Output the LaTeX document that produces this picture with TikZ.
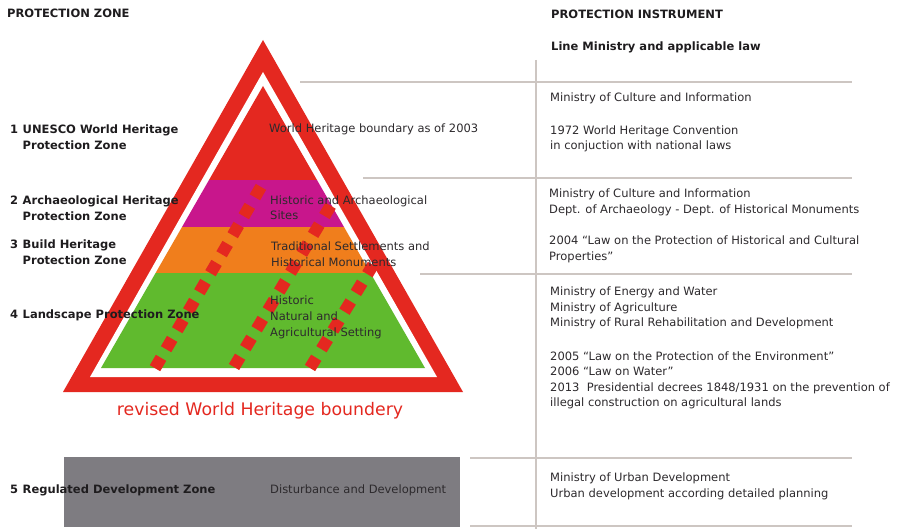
\documentclass[tikz,border=0pt]{standalone}
\usepackage{fontspec}
\setmainfont{DejaVu Sans}
\definecolor{hred}{RGB}{228,40,32}
\definecolor{zmag}{RGB}{200,22,140}
\definecolor{zorange}{RGB}{240,126,28}
\definecolor{zgreen}{RGB}{96,186,46}
\definecolor{zgrey}{RGB}{126,124,129}
\definecolor{rulegrey}{RGB}{205,198,194}
\definecolor{ink}{RGB}{30,28,30}
\definecolor{inkr}{RGB}{45,42,45}
\tikzset{
  lab/.style={anchor=base west, inner sep=0pt, font=\fontsize{11.5}{15.8}\selectfont\bfseries, text=ink},
  txt/.style={anchor=base west, inner sep=0pt, font=\fontsize{11.5}{15.6}\selectfont, text=inkr},
  rule/.style={draw=rulegrey, line width=1.1pt},
  sqdots/.style={draw=hred, line width=12pt, dash pattern=on 12pt off 10pt},
}
\newcommand{\twol}[3]{\begin{tabular}[t]{@{}l@{\hspace{4.5pt}}l@{}}#1 & #2\\ & #3\end{tabular}}
\newcommand{\mlines}[1]{\begin{tabular}[t]{@{}l@{}}#1\end{tabular}}
\begin{document}
\begin{tikzpicture}[x=1pt,y=-1pt]
\useasboundingbox (0,0) rectangle (897,529);
\fill[white] (0,0) rectangle (897,529);
% table rules
\draw[rule] (300,82) -- (852,82);
\draw[rule] (363,178) -- (852,178);
\draw[rule] (420,274) -- (852,274);
\draw[rule] (470,458) -- (852,458);
\draw[rule] (470,526) -- (852,526);
\draw[rule] (536,60) -- (536,529);
% regulated development zone
\fill[zgrey] (64,457) rectangle (460,527);
% pyramid
\fill[hred] (263,40) -- (63,392) -- (463,392) -- cycle;
\fill[white] (263,72) -- (90,377) -- (437,377) -- cycle;
\begin{scope}
\clip (263,86) -- (101,368) -- (425,368) -- cycle;
\fill[hred] (90,80) rectangle (440,180.5);
\fill[zmag] (90,180) rectangle (440,227.5);
\fill[zorange] (90,227) rectangle (440,273.5);
\fill[zgreen] (90,273) rectangle (440,370);
\end{scope}
\draw[sqdots] (155,368.2) -- (261,186.8);
\draw[sqdots] (234,367) -- (331,205);
\draw[sqdots] (310,368) -- (373,265);
% headings
\node[lab] (pz) at (7,17.3) {PROTECTION ZONE};
\node[lab] (pi) at (551,19) {PROTECTION INSTRUMENT};
\node[lab] (lm) at (551,50.7) {Line Ministry and applicable law};
% zone labels
\node[lab] (z1) at (10,134) {\twol{1}{UNESCO World Heritage}{Protection Zone}};
\node[lab] (z2) at (10,204.3) {\twol{2}{Archaeological Heritage}{Protection Zone}};
\node[lab] (z3) at (10,248.5) {\twol{3}{Build Heritage}{Protection Zone}};
\node[lab] (z4) at (10,319) {4\hspace{4.5pt}Landscape Protection Zone};
\node[lab] (z5) at (10,493.3) {5\hspace{4.5pt}Regulated Development Zone};
% zone texts
\node[txt] (t1) at (269,132.3) {World Heritage boundary as of 2003};
\node[txt] (t2) at (270,204.3) {\mlines{Historic and Archaeological\\Sites}};
\node[txt] (t3) at (271,250.5) {\mlines{Traditional Settlements and\\Historical Monuments}};
\node[txt] (t4) at (270,305) {\mlines{Historic\\Natural and\\Agricultural Setting}};
\node[txt] (t5) at (270,493.3) {Disturbance and Development};
\node[anchor=base, inner sep=0pt, font=\fontsize{17.3}{20}\selectfont, text=hred] (rev) at (260,415.7) {revised World Heritage boundery};
% instruments
\node[txt] (r1a) at (550,101.7) {Ministry of Culture and Information};
\node[txt] (r1b) at (550,134.3) {\mlines{1972 World Heritage Convention\\in conjuction with national laws}};
\node[txt] (r2a) at (549,197.7) {\mlines{Ministry of Culture and Information\\Dept. of Archaeology - Dept. of Historical Monuments}};
\node[txt] (r2b) at (549,245) {\mlines{2004 “Law on the Protection of Historical and Cultural\\Properties”}};
\node[txt] (r4a) at (550,295.7) {\mlines{Ministry of Energy and Water\\Ministry of Agriculture\\Ministry of Rural Rehabilitation and Development}};
\node[txt] (r4b) at (550,360) {\mlines{2005 “Law on the Protection of the Environment”\\2006 “Law on Water”\\2013\ \ Presidential decrees 1848/1931 on the prevention of\\illegal construction on agricultural lands}};
\node[txt] (r5) at (550,481.7) {\mlines{Ministry of Urban Development\\Urban development according detailed planning}};
\end{tikzpicture}
\end{document}
